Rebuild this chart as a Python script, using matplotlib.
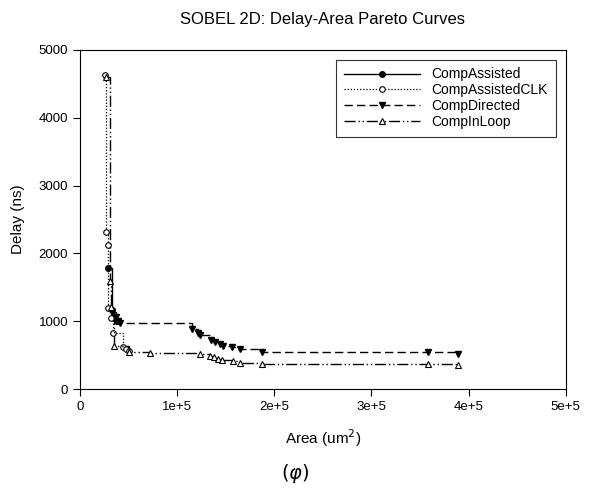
import matplotlib
matplotlib.use("Agg")
import matplotlib.pyplot as plt
from matplotlib.ticker import FuncFormatter, MultipleLocator

plt.rcParams['font.family'] = ['Liberation Sans', 'DejaVu Sans']

# Data (area in um^2, delay in ns)
assisted_area = [29000, 33000, 35500, 38500]
assisted_delay = [1780, 1160, 1040, 1000]

clk_area = [26000, 26300, 28500, 29000, 32000, 34000, 44600, 47000, 50000]
clk_delay = [4630, 2320, 2120, 1200, 1050, 820, 620, 590, 560]

directed_area = [33000, 37000, 39000, 41000, 115000, 121000, 124000, 135000, 139000,
                 144000, 147000, 156000, 165000, 187000, 358000, 389000]
directed_delay = [1140, 1060, 1000, 975, 880, 820, 796, 723, 688,
                  659, 639, 620, 586, 545, 545, 520]

inloop_area = [26500, 30500, 32000, 35000, 50000, 72000, 123000, 134000, 138000, 142000,
               146000, 157000, 165000, 187000, 358000, 389000]
inloop_delay = [4600, 1600, 1210, 640, 545, 530, 520, 490, 470, 445,
                425, 410, 390, 370, 370, 350]

fig = plt.figure(figsize=(5.9, 4.97), dpi=100)
ax = fig.add_axes([0.1356, 0.2173, 0.8234, 0.6821])

ms = 4
ax.plot(assisted_area, assisted_delay, drawstyle='steps-post', color='black', lw=1.0,
        ls='-', marker='o', ms=ms, mfc='black', mec='black', label='CompAssisted')
ax.plot(clk_area, clk_delay, drawstyle='steps-post', color='black', lw=0.9,
        ls=(0, (1, 1.5)), marker='o', ms=ms, mfc='white', mec='black', mew=0.8,
        label='CompAssistedCLK')
ax.plot(directed_area, directed_delay, drawstyle='steps-post', color='black', lw=1.0,
        ls=(0, (6, 3)), marker='v', ms=ms + 1, mfc='black', mec='black',
        label='CompDirected')
ax.plot(inloop_area, inloop_delay, drawstyle='steps-post', color='black', lw=1.0,
        ls=(0, (8, 2, 1, 2, 1, 2)), marker='^', ms=ms + 1, mfc='white', mec='black',
        mew=0.8, label='CompInLoop')

ax.set_xlim(0, 500000)
ax.set_ylim(0, 5000)
ax.xaxis.set_major_locator(MultipleLocator(100000))
ax.yaxis.set_major_locator(MultipleLocator(1000))


def xfmt(v, pos):
    if v == 0:
        return '0'
    return f'{int(round(v / 1e5))}e+5'


ax.xaxis.set_major_formatter(FuncFormatter(xfmt))
ax.tick_params(direction='out', length=5, width=0.8, labelsize=9.5, colors='black')
for s in ax.spines.values():
    s.set_linewidth(0.8)

ax.set_xlabel('Area (um$^2$)', fontsize=11, labelpad=10.5)
ax.set_ylabel('Delay (ns)', fontsize=11, labelpad=10)
ax.set_title('SOBEL 2D: Delay-Area Pareto Curves', fontsize=12, pad=19)

leg = ax.legend(loc='upper right', bbox_to_anchor=(0.979, 0.971), borderaxespad=0,
                fontsize=10, frameon=True, fancybox=False, edgecolor='black',
                handlelength=5.5, handletextpad=0.8, borderpad=0.55, labelspacing=0.13)
leg.get_frame().set_linewidth(0.8)

fig.text(0.5, 0.048, r'$(\varphi)$', ha='center', va='center', fontsize=14)

fig.savefig('out.png', dpi=100)
